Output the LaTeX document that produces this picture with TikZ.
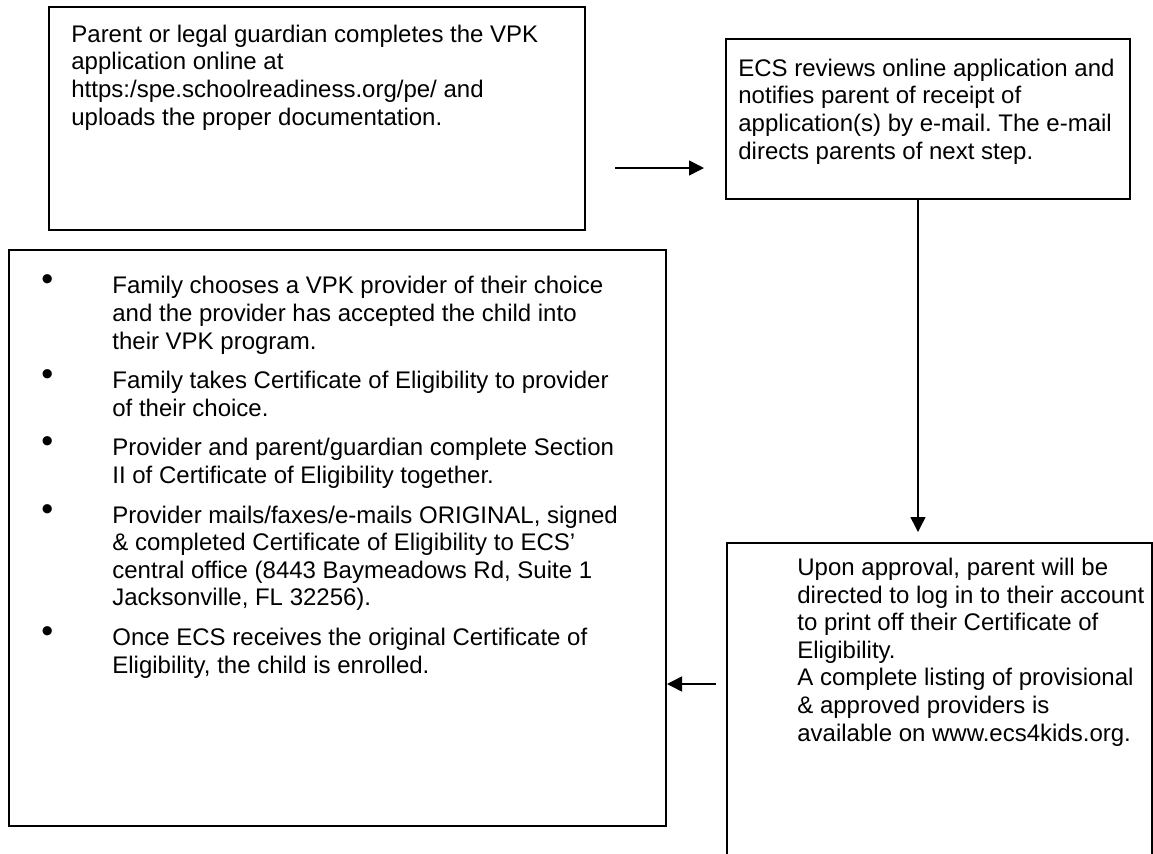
\documentclass[tikz,border=0pt]{standalone}
\usepackage{fontspec}
\setmainfont{Liberation Sans}
\usetikzlibrary{arrows.meta, positioning, calc}
\frenchspacing

\tikzset{
  box/.style={draw, line width=1pt, inner sep=0pt, anchor=north west},
  txt/.style={anchor=base west, align=left, inner sep=0pt,
              font=\fontsize{12}{13.8}\selectfont},
  flow/.style={line width=0.75pt, -{Triangle[length=7.5pt,width=7.5pt]}}
}
\newcommand{\dotmark}{\raisebox{1.5pt}{\fontsize{17}{17}\selectfont •}}

\begin{document}
\begin{tikzpicture}[x=0.5pt,y=-0.5pt]
\useasboundingbox (0,0) rectangle (1153,853);
% boxes
\node[box, minimum width=268pt, minimum height=111.5pt] (box1) at (48,6) {};
\node[box, minimum width=202pt, minimum height=80pt] (box2) at (725,38) {};
\node[box, minimum width=328.5pt, minimum height=288pt] (box3) at (8,249) {};
\node[box, minimum width=212.5pt, minimum height=159pt] (box4) at (726,542) {};
% texts (placed by the baseline of their last line)
\node[txt] (apply) at (71,125) {Parent or legal guardian completes the VPK\\
application online at\\
https:/spe.schoolreadiness.org/pe/ and\\
uploads the proper documentation.};
\node[txt] (review) at (738,159) {ECS reviews online application and\\
notifies parent of receipt of\\
application(s) by e-mail. The e-mail\\
directs parents of next step.};
\node[txt] (approve) at (797,741) {Upon approval, parent will be\\
directed to log in to their account\\
to print off their Certificate of\\
Eligibility.\\
A complete listing of provisional\\
\& approved providers is\\
available on www.ecs4kids.org.};
\node[txt] (steps) at (41,673) {\begin{tabular}[b]{@{}p{35.5pt}@{}l@{}}
\dotmark & Family chooses a VPK provider of their choice\\
 & and the provider has accepted the child into\\
 & their VPK program.\\[6pt]
\dotmark & Family takes Certificate of Eligibility to provider\\
 & of their choice.\\[6pt]
\dotmark & Provider and parent/guardian complete Section\\
 & II of Certificate of Eligibility together.\\[6pt]
\dotmark & Provider mails/faxes/e-mails ORIGINAL, signed\\
 & \& completed Certificate of Eligibility to ECS’\\
 & central office (8443 Baymeadows Rd, Suite 1\\
 & Jacksonville, FL 32256).\\[6pt]
\dotmark & Once ECS receives the original Certificate of\\
 & Eligibility, the child is enrolled.
\end{tabular}};
% arrows
\coordinate (a1) at (0,168);
\coordinate (a2) at (918,0);
\coordinate (a3) at (0,684);
\draw[flow, shorten <=14.5pt, shorten >=10.5pt] (box1.east |- a1) -- (box2.west |- a1);
\draw[flow, shorten >=5pt] (box2.south -| a2) -- (box4.north -| a2);
\draw[flow, shorten <=5pt] (box4.west |- a3) -- (box3.east |- a3);
\end{tikzpicture}
\end{document}
